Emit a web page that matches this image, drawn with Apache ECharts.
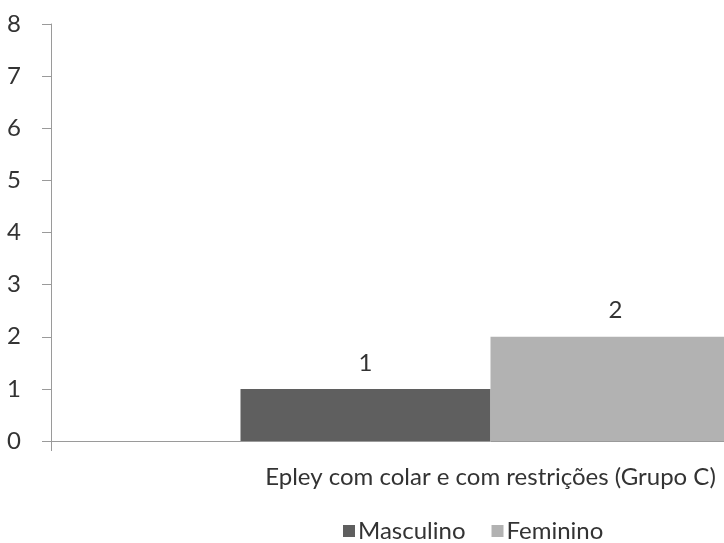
<!DOCTYPE html>
<html>
<head>
<meta charset="utf-8">
<script src="https://cdn.jsdelivr.net/npm/echarts@6/dist/echarts.min.js"></script>
<style>
  html, body { margin: 0; padding: 0; background: #fff; overflow: hidden; }
  /* the plot area runs past the right edge of the window */
  #chart { width: 930px; height: 543px; }
</style>
</head>
<body>
<div id="chart"></div>
<script>
// Chart data
const categories = ['Epley com colar e com restrições (Grupo C)'];
const seriesNames = ['Masculino', 'Feminino'];
const masculino = [1];
const feminino = [2];
const yTicks = { min: 0, max: 8, interval: 1 };

const FONT = 'Lato, "Open Sans", sans-serif';
const TEXT = '#333333';
const SIZE = 24;

const chart = echarts.init(document.getElementById('chart'));
chart.setOption({
  animation: false,
  backgroundColor: '#ffffff',
  textStyle: { fontFamily: FONT, color: TEXT },
  grid: { left: 51, top: 24, bottom: 102, right: 0, containLabel: false },
  legend: {
    data: seriesNames,
    top: 514,
    left: 338,
    itemWidth: 12,
    itemHeight: 12,
    itemGap: 26,
    icon: 'rect',
    textStyle: { fontFamily: FONT, fontSize: SIZE, color: TEXT, padding: [0, 0, 0, -2] }
  },
  xAxis: {
    type: 'category',
    data: categories,
    axisLine: { lineStyle: { color: '#9a9a9a', width: 1 } },
    axisTick: { show: true, length: 10, lineStyle: { color: '#9a9a9a' } },
    axisLabel: { fontFamily: FONT, fontSize: SIZE, color: TEXT, margin: 24 }
  },
  yAxis: {
    type: 'value',
    min: yTicks.min,
    max: yTicks.max,
    interval: yTicks.interval,
    splitLine: { show: false },
    axisLine: { show: true, lineStyle: { color: '#9a9a9a', width: 1 } },
    axisTick: { show: true, length: 9, lineStyle: { color: '#9a9a9a' } },
    axisLabel: { fontFamily: FONT, fontSize: SIZE, color: TEXT, margin: 30 }
  },
  series: [
    {
      name: seriesNames[0],
      type: 'bar',
      data: masculino,
      barWidth: 250,
      barGap: '0%',
      itemStyle: { color: '#5f5f5f' },
      label: { show: true, position: 'top', distance: 14, fontFamily: FONT, fontSize: SIZE, color: TEXT }
    },
    {
      name: seriesNames[1],
      type: 'bar',
      data: feminino,
      barWidth: 250,
      barGap: '0%',
      itemStyle: { color: '#b2b2b2' },
      label: { show: true, position: 'top', distance: 14, fontFamily: FONT, fontSize: SIZE, color: TEXT }
    }
  ]
});
</script>
</body>
</html>
